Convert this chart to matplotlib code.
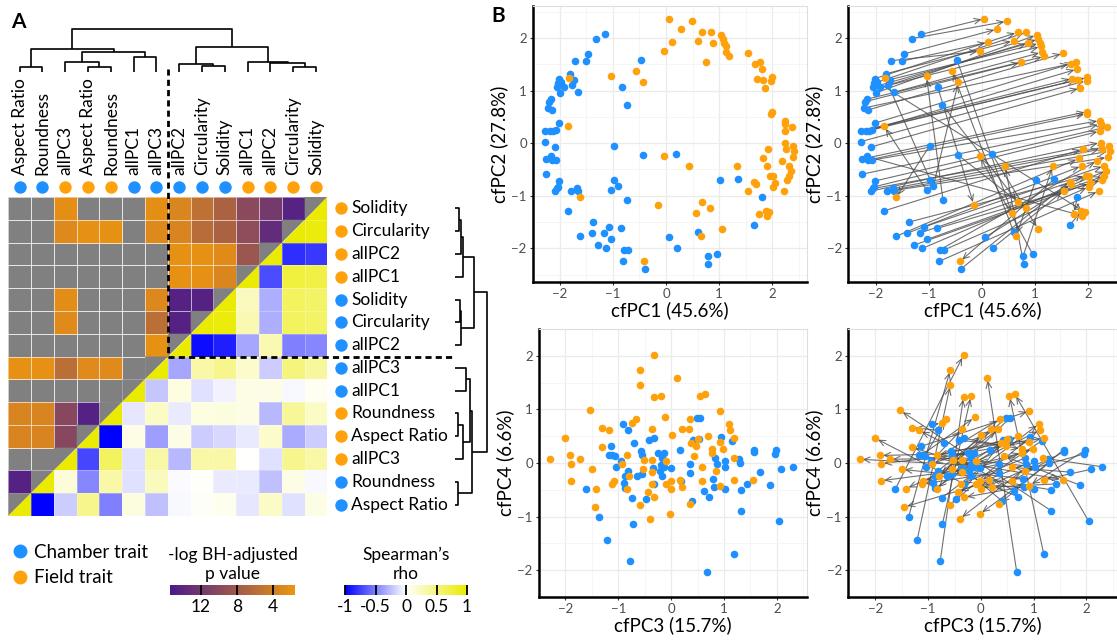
import numpy as np
import matplotlib
matplotlib.use('Agg')
import matplotlib.pyplot as plt
from matplotlib.colors import LinearSegmentedColormap, ListedColormap, Normalize
from matplotlib.cm import ScalarMappable
from matplotlib.lines import Line2D

plt.rcParams['font.family'] = ['Lato', 'DejaVu Sans']

W, H = 1117, 644
BLUE = '#1e90ff'
ORANGE = '#ffa10a'
GRAY = '#808080'

# ---------------- panel A data ----------------
col_traits = ['Aspect Ratio', 'Roundness', 'allPC3', 'Aspect Ratio', 'Roundness', 'allPC1', 'allPC3',
              'allPC2', 'Circularity', 'Solidity', 'allPC1', 'allPC2', 'Circularity', 'Solidity']
col_group = ['chamber', 'chamber', 'field', 'field', 'field', 'chamber', 'chamber',
             'chamber', 'chamber', 'chamber', 'field', 'field', 'field', 'field']
row_traits = col_traits[::-1]
row_group = col_group[::-1]

# -log10 BH-adjusted p (upper-left triangle, None = not significant / not shown)
N = None
neglog_p = [
    [N, N, 2.3, N, N, N, 2.3, 3.2, 5.5, 7.1, 9.8, 11.7, 14.3, N],
    [N, N, 2.8, 2.0, 2.0, N, 2.8, 3.4, 6.1, 7.1, 9.5, 13.3, N, N],
    [N, N, N, N, N, N, N, 2.0, 2.0, 2.6, 8.4, N, N, N],
    [N, N, N, N, N, N, N, 2.0, 2.0, 3.2, N, N, N, N],
    [N, N, 2.4, N, N, N, 3.0, 14.5, 14.5, N, N, N, N, N],
    [N, N, 2.7, N, N, N, 5.8, 14.5, N, N, N, N, N, N],
    [N, N, N, N, N, N, 2.0, N, N, N, N, N, N, N],
    [2.0, 2.0, 5.8, 2.7, 2.7, N, N, N, N, N, N, N, N, N],
    [N, N, N, N, N, N, N, N, N, N, N, N, N, N],
    [3.4, 3.4, 10.2, 14.5, N, N, N, N, N, N, N, N, N, N],
    [3.4, 3.4, 10.2, N, N, N, N, N, N, N, N, N, N, N],
    [N, N, N, N, N, N, N, N, N, N, N, N, N, N],
    [14.5, N, N, N, N, N, N, N, N, N, N, N, N, N],
    [N, N, N, N, N, N, N, N, N, N, N, N, N, N],
]

# Spearman's rho (lower-right triangle)
rho = [
    [N, N, N, N, N, N, N, N, N, N, N, N, N, N],
    [N, N, N, N, N, N, N, N, N, N, N, N, N, 0.95],
    [N, N, N, N, N, N, N, N, N, N, N, N, -0.82, -0.78],
    [N, N, N, N, N, N, N, N, N, N, N, -0.70, 0.75, 0.72],
    [N, N, N, N, N, N, N, N, N, N, 0.25, -0.32, 0.62, 0.60],
    [N, N, N, N, N, N, N, N, N, 0.95, 0.30, -0.32, 0.62, 0.60],
    [N, N, N, N, N, N, N, N, -0.95, -0.88, -0.35, 0.30, -0.50, -0.47],
    [N, N, N, N, N, N, N, -0.35, 0.35, 0.45, 0.20, -0.20, 0.50, 0.38],
    [N, N, N, N, N, N, -0.22, 0.12, -0.12, -0.05, 0.10, 0.10, -0.03, 0.05],
    [N, N, N, N, N, -0.10, 0.22, -0.08, 0.12, 0.13, 0.10, -0.28, 0.40, 0.22],
    [N, N, N, N, -1.00, 0.10, -0.38, 0.10, -0.20, -0.15, -0.08, 0.20, -0.33, -0.20],
    [N, N, N, -0.72, 0.62, -0.12, 0.35, -0.28, 0.35, 0.35, 0.00, -0.12, 0.45, 0.35],
    [N, N, 0.15, -0.47, 0.35, -0.12, 0.25, -0.02, 0.02, -0.08, -0.08, -0.25, 0.10, -0.03],
    [N, -1.00, -0.20, 0.45, -0.50, 0.13, -0.25, -0.03, 0.03, 0.07, -0.10, 0.22, -0.12, 0.10],
]

# hierarchical clustering of the traits (column order), (left, right, height)
merges = [
    (0, 1, 4.7), (3, 4, 4.7), (2, 15, 10.3), (5, 6, 15.0), (16, 17, 20.3), (14, 18, 23.0),
    (8, 9, 6.3), (7, 20, 7.7), (12, 13, 5.3), (11, 22, 8.7), (10, 23, 10.3), (21, 24, 25.3),
    (19, 25, 42.7),
]

# ---------------- panel B data ----------------
pc12_blue_x = [-1.14, -1.32, -1.46, -1.51, -1.71, -1.81, -2.01, -2.03, -2.04, -1.99, -1.91, -1.73, -1.76,
               -1.65, -2.16, -2.20, -2.15, -2.22, -2.02, -2.06, -2.28, -2.18, -2.13, -2.28, -2.08, -2.26,
               -2.14, -2.06, -2.26, -2.02, -2.03, -2.09, -2.04, -1.79, -1.68, -1.66, -1.85, -1.61, -1.40,
               -1.37, -1.17, -1.28, -1.08, -1.12, -1.03, -0.84, -0.79, -0.71, -0.81, -0.39, 0.06, 0.21,
               0.78, 0.79, 0.96, 0.60, -0.73, -0.91, -0.97, -1.04, -0.98, -0.83, -0.74, -0.47, -0.44,
               0.19, 1.02, 1.36, 1.80, 1.66, -1.97, -2.17]
pc12_blue_y = [2.07, 1.99, 1.70, 1.56, 1.57, 1.32, 1.23, 1.14, 1.07, 0.96, 1.06, 1.21, 1.10, 0.97, 0.84,
               0.79, 0.63, 0.67, 0.38, 0.26, 0.23, 0.24, 0.24, 0.03, -0.07, -0.30, -0.32, -0.32, -0.59,
               -0.72, -0.83, -0.91, -0.86, -0.91, -0.86, -0.90, -1.29, -1.77, -1.71, -1.50, -1.71, -1.94,
               -1.59, -2.00, -1.83, -1.62, -2.03, -2.03, -2.25, -2.39, -1.79, -1.99, -2.15, -2.29, -2.11,
               -1.68, -1.08, -0.81, -0.70, -0.89, -0.05, 1.07, 0.73, 1.59, -0.23, -0.20, -0.70, -0.69,
               -1.03, -1.56, 1.16, -0.25]
pc12_orange_x = [0.05, 0.48, 0.29, 0.12, -0.03, 0.60, 0.68, 0.84, 0.88, 1.04, 1.07, 1.09, 1.12, 1.13, 1.18,
                 0.75, 1.54, 1.68, 1.77, 1.80, 1.71, 1.82, 1.99, 1.98, 1.86, 1.99, 1.98, 2.23, 2.24, 2.37,
                 2.23, 2.24, 2.39, 2.41, 2.26, 2.38, 1.91, 1.83, 1.89, 1.96, 2.02, 2.04, 2.31, 2.35, 2.31,
                 2.27, 2.18, 2.02, 2.21, 1.66, 1.69, 1.55, 1.34, 0.44, -0.04, -0.56, -1.04, -0.44, -1.82,
                 -1.84, -1.61, -0.15, 0.68, 0.57, 0.83, 1.06, 0.65, -0.41, 1.74, 1.88, 1.94, 1.89]
pc12_orange_y = [2.37, 2.32, 2.17, 1.92, 1.75, 1.95, 2.11, 2.11, 1.90, 2.06, 1.98, 1.90, 1.84, 1.73, 1.65,
                 1.54, 1.71, 1.51, 1.54, 1.41, 1.23, 1.21, 1.25, 1.19, 1.05, 0.60, 0.56, 0.43, 0.36, 0.31,
                 0.23, 0.01, -0.06, -0.15, -0.11, -0.27, -0.11, -0.29, -0.43, -0.62, -0.62, -0.76, -0.43,
                 -0.52, -0.62, -0.70, -0.33, -0.83, -0.91, -0.73, -0.78, -0.90, -0.43, -0.43, -0.24, 1.38,
                 1.27, 1.16, 1.24, 0.32, -1.03, -1.17, -1.12, -1.33, -1.23, -1.63, -1.76, -2.25, -1.34,
                 -1.29, -1.31, -1.38]

pc34_blue_x = [-1.62, -1.37, -1.21, -0.77, -0.73, 0.68, 1.19, 2.04, 1.33, -1.14, -1.12, -1.06, -0.92, -0.81,
               -0.70, -1.05, -0.94, -0.82, -0.87, -0.90, -0.87, -0.74, -0.64, -0.57, -0.55, -0.55, -0.47,
               -0.42, -0.32, -0.35, -0.32, -0.25, -0.14, -0.18, -0.19, -0.14, -0.01, -0.18, 0.17, 0.18,
               0.35, 0.35, 0.42, 0.53, 0.48, 0.55, 0.40, 0.62, 0.71, 0.80, 0.83, 0.86, 0.82, 0.94, 1.01,
               1.02, 1.01, 1.15, 1.28, 1.30, 1.33, 1.43, 1.57, 1.57, 1.69, 1.87, 1.96, 1.98, 2.08, 2.30,
               -1.18, -0.22]
pc34_blue_y = [-0.48, -1.00, -1.44, -1.82, -1.14, -2.04, -1.69, -1.08, -0.89, 0.31, 0.15, 0.13, 0.72, 0.61,
               0.37, -0.08, 0.03, -0.15, -0.25, -0.37, -0.47, -0.65, -0.24, 0.22, 0.14, -0.20, -0.68, 0.43,
               0.46, -0.10, -0.39, 0.18, 0.18, 0.09, -0.04, -0.07, -0.09, -0.25, 0.24, -0.34, -0.18, -0.02,
               0.42, 0.44, 0.84, 0.84, -0.71, -0.52, -0.63, -0.29, 0.09, -0.02, -0.44, 0.49, 0.03, -0.07,
               -0.48, 0.41, 0.07, 0.00, -0.50, -0.39, 0.25, 0.21, -0.17, -0.41, 0.17, 0.24, -0.12, -0.07,
               0.14, -0.14]
pc34_orange_x = [-0.33, -0.58, -0.58, -0.33, -0.19, 0.12, 0.54, 0.64, -1.53, 0.92, -0.12, -0.66, -0.74,
                 -1.30, -1.17, -0.36, 0.36, 0.20, 0.33, 0.01, 0.70, 1.10, 1.12, 1.19, 0.92, 0.50, 0.38, 0.47,
                 0.77, 0.78, -2.00, -1.91, -1.89, -1.73, -2.30, -1.30, -1.89, -1.50, -1.42, -1.45, -1.12,
                 -1.09, -0.93, -0.84, -0.79, -0.84, -0.52, -0.36, -0.54, -0.36, -0.37, -0.44, -0.32, -0.59,
                 -0.40, -0.09, -0.10, -0.01, 0.00, -0.02, 0.16, 0.21, 0.35, 0.58, 0.58, 0.43, 0.84, 0.92,
                 1.19, 1.18, 1.55, 0.99]
pc34_orange_y = [2.01, 1.74, 1.46, 1.24, 1.25, 1.59, 1.25, 1.29, 0.98, 0.97, 0.85, 0.82, 0.74, 0.66, 0.61,
                 0.63, 0.82, 0.63, 0.63, 0.53, 0.51, 0.73, 0.61, 0.46, 0.40, 0.45, 0.37, 0.32, 0.26, 0.19,
                 0.46, 0.14, -0.01, 0.07, 0.07, 0.29, -0.33, -0.12, -0.48, -0.82, -0.39, -0.33, -0.01, 0.14,
                 -0.24, -0.49, 0.06, 0.06, -0.12, -0.17, -0.39, -0.54, -0.64, -0.78, -1.04, 0.04, -0.39,
                 -0.34, -0.49, -0.95, -0.31, -0.45, -0.76, -0.34, -0.08, 0.13, -0.14, -0.42, -0.31, 0.09,
                 -0.31, 0.26]

fig = plt.figure(figsize=(W / 100, H / 100), dpi=100)


def px_axes(x0, y0, x1, y1):
    return fig.add_axes([x0 / W, 1 - y1 / H, (x1 - x0) / W, (y1 - y0) / H])


# ---------------- heatmap ----------------
pcmap = LinearSegmentedColormap.from_list('pval', ['#ec9410', '#9a5650', '#4b1a8c'])
pnorm = Normalize(1.6, 15.4)
rcmap = LinearSegmentedColormap.from_list('rho', ['#0000ff', '#ffffff', '#ebeb00'])
rnorm = Normalize(-1, 1)

n = len(col_traits)
P = np.array(neglog_p, dtype=float)
R = np.array(rho, dtype=float)
rr, cc = np.indices((n, n))
upper = rr + cc < n - 1
lower = rr + cc > n - 1
edge = dict(edgecolors=(1, 1, 1, 0.28), linewidth=0.6)

hm = px_axes(8.3, 197, 327.5, 516)
hm.pcolormesh(np.ma.masked_where(~(upper & np.isnan(P)), np.ones((n, n))),
              cmap=ListedColormap([GRAY]), **edge)
hm.pcolormesh(np.ma.masked_invalid(np.where(upper, P, np.nan)), cmap=pcmap, norm=pnorm, **edge)
hm.pcolormesh(np.ma.masked_invalid(np.where(lower, R, np.nan)), cmap=rcmap, norm=rnorm, **edge)
for r in range(n):
    c = n - 1 - r
    hm.fill([c, c + 1, c], [r, r, r + 1], color=GRAY, lw=0)
    hm.fill([c + 1, c + 1, c], [r, r + 1, r + 1], color=rcmap(rnorm(1.0)), lw=0)
hm.set_xlim(0, n)
hm.set_ylim(n, 0)
hm.axis('off')

gcol = {'chamber': BLUE, 'field': ORANGE}
for c, (t, g) in enumerate(zip(col_traits, col_group)):
    hm.scatter(c + 0.5, -0.45, s=80, color=gcol[g], lw=0, clip_on=False)
    hm.text(c + 0.5, -0.95, t, rotation=90, ha='center', va='bottom', fontsize=12.5)
for r, (t, g) in enumerate(zip(row_traits, row_group)):
    hm.scatter(14.58, r + 0.5, s=80, color=gcol[g], lw=0, clip_on=False)
    hm.text(15.05, r + 0.5, t, ha='left', va='center', fontsize=12.5)

# dashed split lines
hm.plot([7, 7], [-5.6, 7], color='black', lw=2, ls=(0, (2.2, 1.5)), clip_on=False, zorder=5)
hm.plot([7, 19.6], [7, 7], color='black', lw=2, ls=(0, (2.2, 1.5)), clip_on=False, zorder=5)


def dendro(merges, leaf_pos):
    pos = list(leaf_pos)
    hgt = [0.0] * len(leaf_pos)
    segs = []
    for a, b, h in merges:
        segs.append(([pos[a], pos[a], pos[b], pos[b]], [hgt[a], h, h, hgt[b]]))
        pos.append((pos[a] + pos[b]) / 2)
        hgt.append(h)
    return segs


top = px_axes(8.3, 25, 327.5, 72)
for xs, hs in dendro(merges, [c + 0.5 for c in range(n)]):
    top.plot(xs, hs, color='black', lw=1.2, solid_capstyle='butt')
top.set_xlim(0, n)
top.set_ylim(0, 47)
top.axis('off')

side = px_axes(455, 197, 492, 516)
for ys, hs in dendro(merges, [n - 1 - c + 0.5 for c in range(n)]):
    side.plot(hs, ys, color='black', lw=1.2, solid_capstyle='butt')
side.set_ylim(n, 0)
side.set_xlim(0, 50)
side.axis('off')

# colorbars
pax = px_axes(170, 585, 295, 595)
cb = fig.colorbar(ScalarMappable(norm=pnorm, cmap=pcmap), cax=pax, orientation='horizontal')
pax.invert_xaxis()
cb.set_ticks([12, 8, 4])
cb.outline.set_visible(False)
pax.tick_params(direction='in', length=7.2, width=1.3, color='black', labelsize=12.5, pad=3)
pax.set_title('-log BH-adjusted\np value', fontsize=12.5, linespacing=1.3, pad=4)

rax = px_axes(345, 585, 467, 595)
cb2 = fig.colorbar(ScalarMappable(norm=rnorm, cmap=rcmap), cax=rax, orientation='horizontal')
cb2.set_ticks([-1, -0.5, 0, 0.5, 1])
cb2.set_ticklabels(['-1', '-0.5', '0', '0.5', '1'])
cb2.outline.set_visible(False)
rax.tick_params(direction='in', length=7.2, width=1.3, color='black', labelsize=12.5, pad=3)
rax.set_title('Spearman\u2019s\nrho', fontsize=12.5, linespacing=1.3, pad=4)

handles = [Line2D([], [], marker='o', ls='', color=BLUE, markersize=9, label='Chamber trait'),
           Line2D([], [], marker='o', ls='', color=ORANGE, markersize=9, label='Field trait')]
fig.legend(handles=handles, loc='upper left', bbox_to_anchor=(11 / W, 1 - 544 / H), frameon=False,
           fontsize=13.5, handlelength=1.0, handletextpad=0.2, labelspacing=0.45, borderpad=0,
           borderaxespad=0)

fig.text(18 / W, 1 - 22 / H, 'A', fontsize=15, fontweight='bold', ha='center', va='center')
fig.text(498 / W, 1 - 16 / H, 'B', fontsize=15, fontweight='bold', ha='center', va='center')


# ---------------- PCA scatter panels ----------------
def scatter_panel(rect, bx, by, ox, oy, xlab, ylab, xlim, ylim, arrows):
    ax = px_axes(*rect)
    if arrows:
        for x0, y0, x1, y1 in zip(bx, by, ox, oy):
            ax.annotate('', xy=(x1, y1), xytext=(x0, y0), zorder=2,
                        arrowprops=dict(arrowstyle='->,head_length=0.45,head_width=0.2', color='#4d4d4d',
                                        lw=0.8, alpha=0.8, shrinkA=0, shrinkB=2))
    ax.scatter(bx, by, s=30, color=BLUE, lw=0, zorder=3)
    ax.scatter(ox, oy, s=30, color=ORANGE, lw=0, zorder=3)
    ax.set_xlim(xlim)
    ax.set_ylim(ylim)
    ax.set_xticks([-2, -1, 0, 1, 2])
    ax.set_yticks([-2, -1, 0, 1, 2])
    ax.set_xticks(np.arange(-2.5, 2.6, 1.0), minor=True)
    ax.set_yticks(np.arange(-2.5, 2.6, 1.0), minor=True)
    ax.grid(which='major', color='#ebebeb', lw=0.9)
    ax.grid(which='minor', color='#f4f4f4', lw=0.6)
    ax.set_axisbelow(True)
    for s in ('top', 'right'):
        ax.spines[s].set_color('#dedede')
        ax.spines[s].set_linewidth(0.8)
    for s in ('left', 'bottom'):
        ax.spines[s].set_color('black')
        ax.spines[s].set_linewidth(1.8)
    ax.tick_params(which='major', length=2.5, width=0.8, color='#333333', labelcolor='#4d4d4d',
                   labelsize=9.5, pad=2)
    ax.tick_params(which='minor', length=0)
    ax.set_xlabel(xlab, fontsize=13.5, labelpad=1)
    ax.set_ylabel(ylab, fontsize=13.5, labelpad=2)
    return ax


scatter_panel((533, 6, 807, 282), pc12_blue_x, pc12_blue_y, pc12_orange_x, pc12_orange_y,
              'cfPC1 (45.6%)', 'cfPC2 (27.8%)', (-2.5, 2.65), (-2.64, 2.61), False)
scatter_panel((848, 6, 1117, 282), pc12_blue_x, pc12_blue_y, pc12_orange_x, pc12_orange_y,
              'cfPC1 (45.6%)', 'cfPC2 (27.8%)', (-2.52, 2.55), (-2.64, 2.61), True)
scatter_panel((539, 329, 807, 597), pc34_blue_x, pc34_blue_y, pc34_orange_x, pc34_orange_y,
              'cfPC3 (15.7%)', 'cfPC4 (6.6%)', (-2.49, 2.57), (-2.23, 2.24), False)
scatter_panel((848, 329, 1117, 597), pc34_blue_x, pc34_blue_y, pc34_orange_x, pc34_orange_y,
              'cfPC3 (15.7%)', 'cfPC4 (6.6%)', (-2.52, 2.58), (-2.23, 2.24), True)

fig.savefig('out.png', dpi=100)
